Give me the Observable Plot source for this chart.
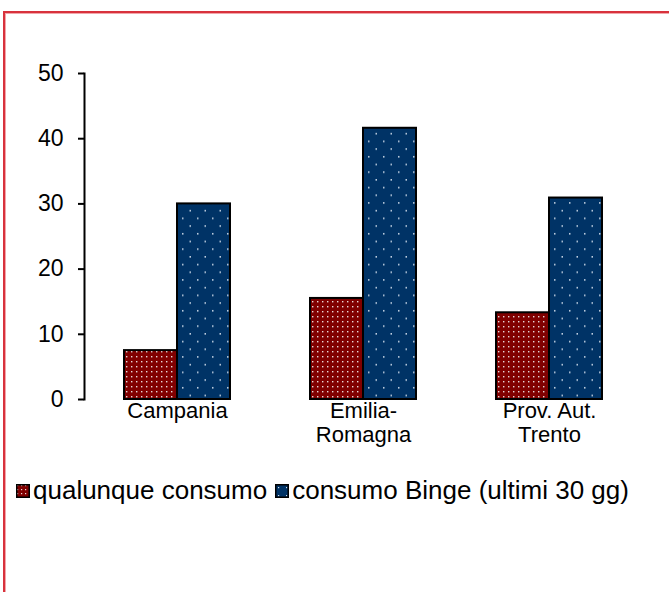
<!DOCTYPE html>
<html>
<head>
<meta charset="utf-8">
<script src="https://cdn.jsdelivr.net/npm/d3@7"></script>
<script src="https://cdn.jsdelivr.net/npm/@observablehq/plot@0.6"></script>
<style>
  html, body { margin: 0; padding: 0; background: #fff; }
  body { width: 669px; height: 592px; position: relative; overflow: hidden; font-family: "Liberation Sans", Arial, sans-serif; }
  #frame { position: absolute; left: 3px; top: 11px; width: 720px; height: 700px; border: 2px solid #d8323c; box-shadow: inset 0 0 0 1px #f2a6ab; }
  #chart { position: absolute; left: 0; top: 0; }
  #chart g[aria-label="y-axis tick"], #chart [aria-label="frame"] { stroke-width: 2px; }
  #legend { position: absolute; left: 16px; top: 475px; display: flex; align-items: center; font-size: 26px; color: #000; white-space: nowrap; }
  #legend .item { display: flex; align-items: center; margin-right: 8px; }
  #legend svg { margin-right: 3px; }
</style>
</head>
<body>
<svg width="0" height="0" style="position:absolute">
  <defs>
    <pattern id="patRed" patternUnits="userSpaceOnUse" width="5" height="5">
      <rect width="5" height="5" fill="#800000"></rect>
      <rect x="1" y="1" width="1.4" height="1.4" fill="#e8d8d8"></rect>
    </pattern>
    <pattern id="patBlue" patternUnits="userSpaceOnUse" width="15" height="15.4">
      <rect width="15" height="15.4" fill="#003366"></rect>
      <rect x="2" y="2" width="1.5" height="1.5" fill="#d0dcea"></rect>
      <rect x="9.5" y="9.7" width="1.5" height="1.5" fill="#d0dcea"></rect>
    </pattern>
    <pattern id="patRedL" patternUnits="userSpaceOnUse" width="4" height="4">
      <rect width="4" height="4" fill="#800000"></rect>
      <rect x="1" y="1" width="1.2" height="1.2" fill="#e8d8d8"></rect>
    </pattern>
    <pattern id="patBlueL" patternUnits="userSpaceOnUse" width="8" height="8">
      <rect width="8" height="8" fill="#003366"></rect>
      <rect x="3" y="3" width="1.2" height="1.2" fill="#d0dcea"></rect>
    </pattern>
  </defs>
</svg>
<div id="frame"></div>
<div id="chart"></div>
<div id="legend"></div>
<script>
const regions = ["Campania", "Emilia-Romagna", "Prov. Aut. Trento"];
const regionLabels = ["Campania", "Emilia-\nRomagna", "Prov. Aut.\nTrento"];
const series = ["qualunque consumo", "consumo Binge (ultimi 30 gg)"];
const qualunque = [7.5, 15.5, 13.3];
const binge = [30.0, 41.6, 30.9];
const yTicks = [0, 10, 20, 30, 40, 50];
const patterns = ["url(#patRed)", "url(#patBlue)"];
const legendPatterns = ["url(#patRedL)", "url(#patBlueL)"];

const data = regions.flatMap((r, i) => [
  {region: r, series: series[0], value: qualunque[i]},
  {region: r, series: series[1], value: binge[i]}
]);

const chart = Plot.plot({
  width: 669,
  height: 460,
  marginLeft: 84,
  marginRight: 27,
  marginTop: 73,
  marginBottom: 61,
  style: {fontFamily: "'Liberation Sans', Arial, sans-serif", fontSize: "23px", color: "#000", background: "transparent"},
  fx: {domain: regions, padding: 0, label: null},
  x: {domain: series, paddingInner: 0, paddingOuter: 0.73, axis: null},
  y: {domain: [0, 50], ticks: yTicks, tickSize: 6, tickPadding: 15, line: true, label: null},
  color: {domain: series, range: patterns},
  marks: [
    Plot.barY(data, {fx: "region", x: "series", y: "value", fill: "series", stroke: "#000", strokeWidth: 2}),
    Plot.axisFx({anchor: "bottom", tickSize: 0, tickPadding: 2, lineHeight: 1.08, fontSize: 22,
      tickFormat: d => regionLabels[regions.indexOf(d)], label: null})
  ]
});
document.getElementById("chart").appendChild(chart);

const legend = document.getElementById("legend");
series.forEach((s, i) => {
  const item = document.createElement("div");
  item.className = "item";
  item.innerHTML = `<svg width="14" height="14"><rect x="0.75" y="0.75" width="12.5" height="12.5" fill="${legendPatterns[i]}" stroke="#000" stroke-width="1.5"></rect></svg><span>${s}</span>`;
  legend.appendChild(item);
});
</script>
</body>
</html>
